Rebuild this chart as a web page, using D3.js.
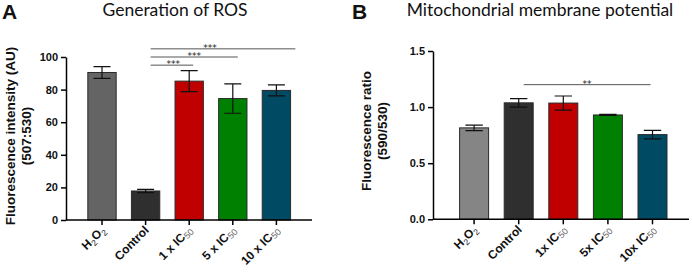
<!DOCTYPE html>
<html>
<head>
<meta charset="utf-8">
<script src="https://cdn.jsdelivr.net/npm/d3@7"></script>
<style>
  body { margin: 0; background: #fff; }
  svg { display: block; }
</style>
</head>
<body>
<div id="chart"></div>
<script>
// categories (main text + subscript parts)
const catsA = ["H2O2", "Control", "1 x IC50", "5 x IC50", "10 x IC50"];
const catsB = ["H2O2", "Control", "1x IC50", "5x IC50", "10x IC50"];

// panel A: Generation of ROS
const rosMean = [90.5, 17.8, 85.2, 74.5, 79.5];
const rosErr = [3.6, 1.0, 6.4, 9.0, 3.4];
const rosTicks = [0, 20, 40, 60, 80, 100];

// panel B: mitochondrial membrane potential
const mmpMean = [0.815, 1.038, 1.036, 0.93, 0.755];
const mmpErr = [0.025, 0.038, 0.063, 0.005, 0.038];
const mmpTicks = [0, 0.5, 1.0, 1.5];

const colorsA = ["#646464", "#2f2f2f", "#c00000", "#008000", "#004b63"];
const colorsB = ["#858585", "#2f2f2f", "#c00000", "#008000", "#004b63"];

// significance brackets: from/to category index, height in data units
const sigA = [
  { from: 1, to: 4, level: 105, label: "***" },
  { from: 1, to: 3, level: 100, label: "***" },
  { from: 1, to: 2, level: 95, label: "***" }
];
const sigB = [
  { from: 1, to: 4, level: 1.2, label: "**" }
];

const svg = d3.select("#chart").append("svg")
  .attr("width", 692)
  .attr("height", 272);

function drawPanel(opt) {
  const g = svg.append("g");
  const x = d3.scaleBand()
    .domain(opt.cats)
    .range(opt.xRange)
    .paddingInner(0.35)
    .paddingOuter(0.175);
  const y = d3.scaleLinear().domain(opt.yDomain).range(opt.yRange);
  const cx = i => x(opt.cats[i]) + x.bandwidth() / 2;

  // bars
  g.selectAll(".bar")
    .data(opt.mean)
    .enter().append("rect")
    .attr("x", (d, i) => x(opt.cats[i]))
    .attr("y", d => y(d))
    .attr("width", x.bandwidth())
    .attr("height", d => y(0) - y(d))
    .attr("fill", (d, i) => opt.colors[i])
    .attr("stroke", "#2a2a2a")
    .attr("stroke-width", 1);

  // error bars
  const cap = x.bandwidth() * 0.3;
  opt.mean.forEach((m, i) => {
    const e = opt.err[i];
    const c = cx(i);
    const p = `M${c},${y(m - e)}V${y(m + e)}M${c - cap},${y(m + e)}H${c + cap}M${c - cap},${y(m - e)}H${c + cap}`;
    g.append("path").attr("d", p).attr("stroke", "#111").attr("stroke-width", 1.2).attr("fill", "none");
  });

  // y axis
  const yAxis = g.append("g")
    .attr("transform", `translate(${opt.axisX},0)`)
    .call(d3.axisLeft(y).tickValues(opt.ticks).tickSize(5).tickSizeOuter(0).tickFormat(opt.fmt));
  yAxis.select(".domain").attr("stroke-width", 1.5);
  yAxis.selectAll(".tick line").attr("stroke-width", 1.5);
  yAxis.selectAll(".tick text")
    .attr("font-family", "Liberation Sans, Arial, sans-serif")
    .attr("font-weight", "bold")
    .attr("font-size", "11px")
    .attr("fill", "#111");

  // x axis
  const xAxis = g.append("g")
    .attr("transform", `translate(0,${y(0)})`)
    .call(d3.axisBottom(x).tickSize(5).tickFormat(""));
  xAxis.select(".domain").remove();
  xAxis.selectAll(".tick line").attr("stroke-width", 1.5);
  g.append("line")
    .attr("x1", opt.axisX).attr("x2", opt.xEnd)
    .attr("y1", y(0)).attr("y2", y(0))
    .attr("stroke", "#000").attr("stroke-width", 1.5);

  // x labels, rotated
  opt.cats.forEach((c, i) => {
    const t = g.append("text")
      .attr("transform", `translate(${cx(i) + 4},${y(0) + 11}) rotate(-45)`)
      .attr("text-anchor", "end")
      .attr("font-family", "Liberation Sans, Arial, sans-serif")
      .attr("font-weight", "bold")
      .attr("font-size", "12px")
      .attr("fill", "#111");
    if (c === "H2O2") {
      t.append("tspan").text("H");
      t.append("tspan").text("2").attr("font-size", "8.5px").attr("font-weight", "normal").attr("dy", 3);
      t.append("tspan").text("O").attr("dy", -3);
      t.append("tspan").text("2").attr("font-size", "8.5px").attr("font-weight", "normal").attr("dy", 3);
    } else if (c.endsWith("IC50")) {
      t.append("tspan").text(c.slice(0, -2));
      t.append("tspan").text("50").attr("font-size", "9px").attr("font-weight", "normal")
        .attr("fill", "#666").attr("dy", 2);
    } else {
      t.text(c);
    }
  });

  // significance
  opt.sig.forEach((s, k) => {
    const x1 = cx(s.from) + 5;
    const x2 = cx(s.to) + opt.sigEnd[k];
    g.append("line")
      .attr("x1", x1).attr("x2", x2)
      .attr("y1", y(s.level)).attr("y2", y(s.level))
      .attr("stroke", "#555").attr("stroke-width", 1);
    g.append("text")
      .attr("x", x1 + (x2 - x1) * opt.starPos[k])
      .attr("y", y(s.level) + 2)
      .attr("text-anchor", "middle")
      .attr("font-family", "DejaVu Sans, sans-serif")
      .attr("font-size", "9px")
      .attr("fill", "#222")
      .text(s.label);
  });

  // y label
  const yl = g.append("text")
    .attr("transform", `translate(${opt.labelX},${opt.labelY}) rotate(-90)`)
    .attr("text-anchor", "middle")
    .attr("font-family", "Liberation Sans, Arial, sans-serif")
    .attr("font-weight", "bold")
    .attr("font-size", "13.5px")
    .attr("fill", "#111");
  yl.append("tspan").attr("x", 0).attr("dy", 0).text(opt.yLabel[0]);
  yl.append("tspan").attr("x", 0).attr("dy", 16).text(opt.yLabel[1]);

  // panel letter + title
  g.append("text")
    .attr("x", opt.letterX).attr("y", 19)
    .attr("font-family", "Liberation Sans, Arial, sans-serif")
    .attr("font-weight", "bold")
    .attr("font-size", "21px")
    .attr("fill", "#111")
    .text(opt.letter);
  g.append("text")
    .attr("x", opt.titleX).attr("y", 16)
    .attr("text-anchor", "middle")
    .attr("font-family", "Lato, sans-serif")
    .attr("font-size", "17.5px")
    .attr("fill", "#111")
    .text(opt.title);
}

drawPanel({
  cats: catsA, mean: rosMean, err: rosErr, colors: colorsA, ticks: rosTicks,
  fmt: d3.format("d"),
  xRange: [80.2, 298.2], yDomain: [0, 100], yRange: [220, 57],
  axisX: 66, xEnd: 312,
  sig: sigA, sigEnd: [19, 5, 4], starPos: [0.41, 0.5, 0.53],
  yLabel: ["Fluorescence intensity (AU)", "(507:530)"], labelX: 15, labelY: 136,
  letter: "A", letterX: 2, title: "Generation of ROS", titleX: 175
});

drawPanel({
  cats: catsB, mean: mmpMean, err: mmpErr, colors: colorsB, ticks: mmpTicks,
  fmt: d3.format(".1f"),
  xRange: [451.8, 674.8], yDomain: [0, 1.5], yRange: [219.3, 51],
  axisX: 433, xEnd: 689,
  sig: sigB, sigEnd: [-2], starPos: [0.5],
  yLabel: ["Fluorescence ratio", "(590/530)"], labelX: 371, labelY: 131,
  letter: "B", letterX: 352, title: "Mitochondrial membrane potential", titleX: 540
});
</script>
</body>
</html>
